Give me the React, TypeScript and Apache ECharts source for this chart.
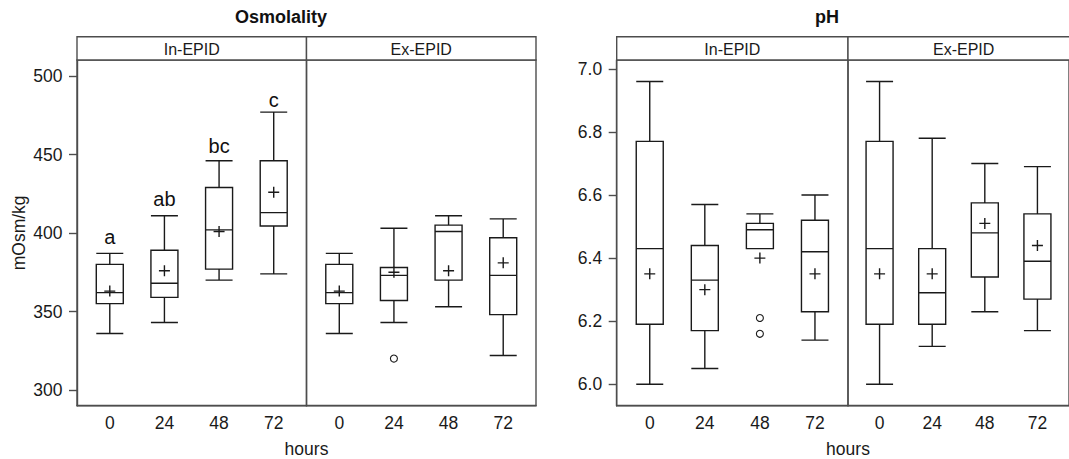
import React, { useEffect, useRef } from "react";
import * as echarts from "echarts";

const hours = ["0", "24", "48", "72"];
const panels = ["In-EPID", "Ex-EPID"];

// [low, Q1, median, Q3, high]
const osmIn = [
  [336, 355, 362, 380, 387],
  [343, 359, 368, 389, 411],
  [370, 377, 402, 429, 446],
  [374, 404.5, 413, 446, 477],
];
const osmInMean = [363, 376, 401, 426];
const osmEx = [
  [336, 355, 362, 380, 387],
  [343, 357, 373, 378, 403],
  [353, 370, 401, 405, 411],
  [322, 348, 373, 397, 409],
];
const osmExMean = [363, 375, 376, 381];
const osmExOutliers = [[2, 320]];
const osmLetters = ["a", "ab", "bc", "c"];
const osmLetterY = [397.5, 421.5, 455.5, 485];

const phIn = [
  [6.0, 6.19, 6.43, 6.77, 6.96],
  [6.05, 6.17, 6.33, 6.44, 6.57],
  [6.43, 6.43, 6.49, 6.51, 6.54],
  [6.14, 6.23, 6.42, 6.52, 6.6],
];
const phInMean = [6.35, 6.3, 6.4, 6.35];
const phInOutliers = [
  [3, 6.21],
  [3, 6.16],
];
const phEx = [
  [6.0, 6.19, 6.43, 6.77, 6.96],
  [6.12, 6.19, 6.29, 6.43, 6.78],
  [6.23, 6.34, 6.48, 6.575, 6.7],
  [6.17, 6.27, 6.39, 6.54, 6.69],
];
const phExMean = [6.35, 6.35, 6.51, 6.44];

const osmTicks = [300, 350, 400, 450, 500];
const phTicks = [6.0, 6.2, 6.4, 6.6, 6.8, 7.0];

const FONT = "'Liberation Sans', Arial, Helvetica, sans-serif";
const INK = "#1a1a1a";
const FRAME = "#4d4d4d";

const TOP = 60;
const HEIGHT = 345.7;
const STRIP_TOP = 36.7;
const gridsPx = [
  { left: 77, width: 229.5 },
  { left: 306.5, width: 229.5 },
  { left: 616.7, width: 231.3 },
  { left: 848, width: 231.3 },
];

export default function App() {
  const ref = useRef<HTMLDivElement>(null);
  useEffect(() => {
    if (!ref.current) return;
    const chart = echarts.init(ref.current, undefined, { renderer: "svg" });

    const grid = gridsPx.map((g) => ({
      left: g.left,
      top: TOP,
      width: g.width,
      height: HEIGHT,
      show: true,
      borderColor: FRAME,
      borderWidth: 1.4,
      backgroundColor: "transparent",
    }));

    const xAxis = gridsPx.map((_, i) => ({
      type: "value",
      gridIndex: i,
      min: 0.4,
      max: 4.6,
      splitLine: { show: false },
      axisLine: { show: true, lineStyle: { color: FRAME, width: 1.4 } },
      axisTick: { show: false },
      axisLabel: {
        customValues: [1, 2, 3, 4],
        formatter: (v: number) => hours[Math.round(v) - 1] ?? "",
        fontSize: 17.5,
        fontFamily: FONT,
        color: INK,
        margin: 8,
      },
    }));

    const mkY = (i: number, min: number, max: number, ticks: number[], show: boolean, fmt: (v: number) => string, name?: string) => ({
      type: "value",
      gridIndex: i,
      min,
      max,
      show,
      name: name ?? "",
      nameLocation: "middle",
      nameRotate: 90,
      nameGap: 49,
      nameTextStyle: { fontSize: 17.5, fontFamily: FONT, color: INK },
      splitLine: { show: false },
      axisLine: { show: true, lineStyle: { color: FRAME, width: 1.4 } },
      axisTick: { show: true, inside: false, length: 8, customValues: ticks, lineStyle: { color: FRAME, width: 1.4 } },
      axisLabel: {
        customValues: ticks,
        formatter: fmt,
        fontSize: 17.5,
        fontFamily: FONT,
        color: INK,
        margin: 14.5,
      },
    });

    const yAxis = [
      mkY(0, 290, 510.2, osmTicks, true, (v) => String(v), "mOsm/kg"),
      mkY(1, 290, 510.2, osmTicks, false, (v) => String(v)),
      mkY(2, 5.932, 7.028, phTicks, true, (v) => v.toFixed(1)),
      mkY(3, 5.932, 7.028, phTicks, false, (v) => v.toFixed(1)),
    ];

    const boxStyle = { color: "rgba(0,0,0,0)", borderColor: INK, borderWidth: 1.4 };
    const box = (i: number, data: number[][]) => ({
      type: "boxplot",
      xAxisIndex: i,
      yAxisIndex: i,
      boxWidth: [27, 27],
      itemStyle: boxStyle,
      data: data.map((d, k) => [k + 1, ...d]),
      z: 2,
    });
    const mean = (i: number, data: number[]) => ({
      type: "scatter",
      xAxisIndex: i,
      yAxisIndex: i,
      symbol: "path://M5,0L5,10M0,5L10,5",
      symbolSize: 11,
      itemStyle: { color: "rgba(0,0,0,0)", borderColor: INK, borderWidth: 1.4, opacity: 1 },
      data: data.map((v, k) => [k + 1, v]),
      z: 3,
    });
    const outl = (i: number, data: number[][]) => ({
      type: "scatter",
      xAxisIndex: i,
      yAxisIndex: i,
      symbol: "circle",
      symbolSize: 7,
      itemStyle: { color: "rgba(0,0,0,0)", borderColor: INK, borderWidth: 1.1, opacity: 1 },
      data: data.map((d) => [d[0], d[1]]),
      z: 3,
    });

    const series: any[] = [
      box(0, osmIn),
      mean(0, osmInMean),
      box(1, osmEx),
      mean(1, osmExMean),
      outl(1, osmExOutliers),
      box(2, phIn),
      mean(2, phInMean),
      outl(2, phInOutliers),
      box(3, phEx),
      mean(3, phExMean),
      {
        type: "scatter",
        xAxisIndex: 0,
        yAxisIndex: 0,
        symbolSize: 1,
        itemStyle: { color: "rgba(0,0,0,0)", opacity: 1 },
        label: {
          show: true,
          position: "inside",
          formatter: (p: any) => p.name,
          fontSize: 20,
          fontFamily: FONT,
          color: "#111",
        },
        data: osmLetters.map((l, k) => ({ name: l, value: [k + 1, osmLetterY[k]] })),
        z: 4,
      },
    ];

    const graphic: any[] = [];
    gridsPx.forEach((g, i) => {
      graphic.push({
        type: "rect",
        shape: { x: g.left, y: STRIP_TOP, width: g.width, height: TOP - STRIP_TOP },
        style: { fill: "#fff", stroke: FRAME, lineWidth: 1.4 },
        z: 10,
      });
      graphic.push({
        type: "text",
        x: g.left + g.width / 2,
        y: (STRIP_TOP + TOP) / 2 + 1,
        style: {
          text: panels[i % 2],
          fontSize: 16,
          fontFamily: FONT,
          fill: INK,
          textAlign: "center",
          textVerticalAlign: "middle",
        },
        z: 11,
      });
    });
    const titles = [
      { text: "Osmolality", x: 281 },
      { text: "pH", x: 827 },
    ];
    titles.forEach((t) =>
      graphic.push({
        type: "text",
        x: t.x,
        y: 17,
        style: {
          text: t.text,
          fontSize: 18,
          fontWeight: "bold",
          fontFamily: FONT,
          fill: "#111",
          textAlign: "center",
          textVerticalAlign: "middle",
        },
      })
    );
    [gridsPx[1].left, gridsPx[3].left].forEach((x) =>
      graphic.push({
        type: "text",
        x,
        y: 449,
        style: {
          text: "hours",
          fontSize: 17.5,
          fontFamily: FONT,
          fill: INK,
          textAlign: "center",
          textVerticalAlign: "middle",
        },
      })
    );

    chart.setOption({
      animation: false,
      backgroundColor: "#fff",
      grid,
      xAxis,
      yAxis,
      series,
      graphic,
    } as any);
    return () => chart.dispose();
  }, []);
  return (
    <div
      ref={ref}
      style={{ position: "absolute", left: 0, top: 0, width: 1069, height: 459, background: "#fff" }}
    />
  );
}
